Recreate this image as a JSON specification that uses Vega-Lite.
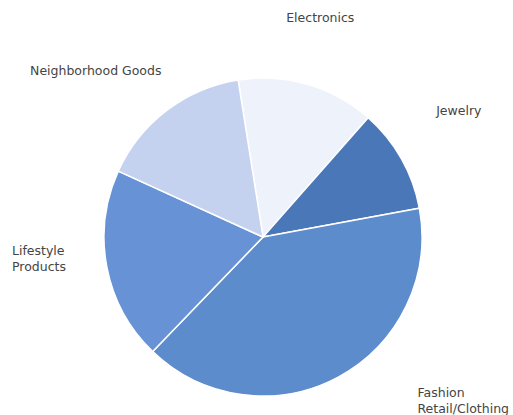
{
  "$schema": "https://vega.github.io/schema/vega-lite/v6.json",
  "autosize": {"type": "none"},
  "width": 500,
  "height": 356,
  "padding": {"left": 13, "top": 59, "right": 0, "bottom": 0},
  "background": "white",
  "config": {"view": {"stroke": null}},
  "data": {
    "values": [
      {"cat": "Electronics", "label": "Electronics", "value": 14.0, "ord": 1},
      {"cat": "Jewelry", "label": "Jewelry", "value": 10.6, "ord": 2},
      {"cat": "Fashion", "label": "Fashion\nRetail/Clothing", "value": 40.1, "ord": 3},
      {"cat": "Lifestyle", "label": "Lifestyle\nProducts", "value": 19.6, "ord": 4},
      {"cat": "Neighborhood", "label": "Neighborhood Goods", "value": 15.7, "ord": 5}
    ]
  },
  "encoding": {
    "theta": {"field": "value", "type": "quantitative", "stack": true, "scale": {"range": [-0.157, 6.126]}},
    "order": {"field": "ord", "type": "quantitative"}
  },
  "layer": [
    {
      "mark": {"type": "arc", "outerRadius": 159, "stroke": "white", "strokeWidth": 1.5},
      "encoding": {
        "color": {
          "field": "cat", "type": "nominal", "legend": null,
          "scale": {
            "domain": ["Electronics", "Jewelry", "Fashion", "Lifestyle", "Neighborhood"],
            "range": ["#eef2fb", "#4a77b8", "#5d8ccc", "#6793d6", "#c4d2f0"]
          }
        }
      }
    },
    {
      "mark": {"type": "text", "radius": 225, "dx": -5.5, "dy": -3, "align": "center", "baseline": "middle", "font": "DejaVu Sans", "fontSize": 12.5, "fill": "#444444", "lineBreak": "\n", "lineHeight": 16},
      "encoding": {"text": {"condition": {"test": "datum.cat === 'Electronics'", "field": "label"}, "value": ""}}
    },
    {
      "mark": {"type": "text", "radius": 225, "dx": 0, "dy": -15, "align": "center", "baseline": "middle", "font": "DejaVu Sans", "fontSize": 12.5, "fill": "#444444", "lineBreak": "\n", "lineHeight": 16},
      "encoding": {"text": {"condition": {"test": "datum.cat === 'Jewelry'", "field": "label"}, "value": ""}}
    },
    {
      "mark": {"type": "text", "radius": 225, "dx": -31, "dy": 13, "align": "center", "baseline": "middle", "font": "DejaVu Sans", "fontSize": 12.5, "fill": "#444444", "lineBreak": "\n", "lineHeight": 16},
      "encoding": {"text": {"condition": {"test": "datum.cat === 'Neighborhood'", "field": "label"}, "value": ""}}
    },
    {
      "mark": {"type": "text", "radius": 225, "dx": -30, "dy": -28, "align": "left", "baseline": "middle", "font": "DejaVu Sans", "fontSize": 12.5, "fill": "#444444", "lineBreak": "\n", "lineHeight": 16},
      "encoding": {"text": {"condition": {"test": "datum.cat === 'Lifestyle'", "field": "label"}, "value": ""}}
    },
    {
      "mark": {"type": "text", "radius": 170, "dx": 74, "dy": 6, "align": "left", "baseline": "middle", "font": "DejaVu Sans", "fontSize": 12.5, "fill": "#444444", "lineBreak": "\n", "lineHeight": 16},
      "encoding": {"text": {"condition": {"test": "datum.cat === 'Fashion'", "field": "label"}, "value": ""}}
    }
  ]
}
